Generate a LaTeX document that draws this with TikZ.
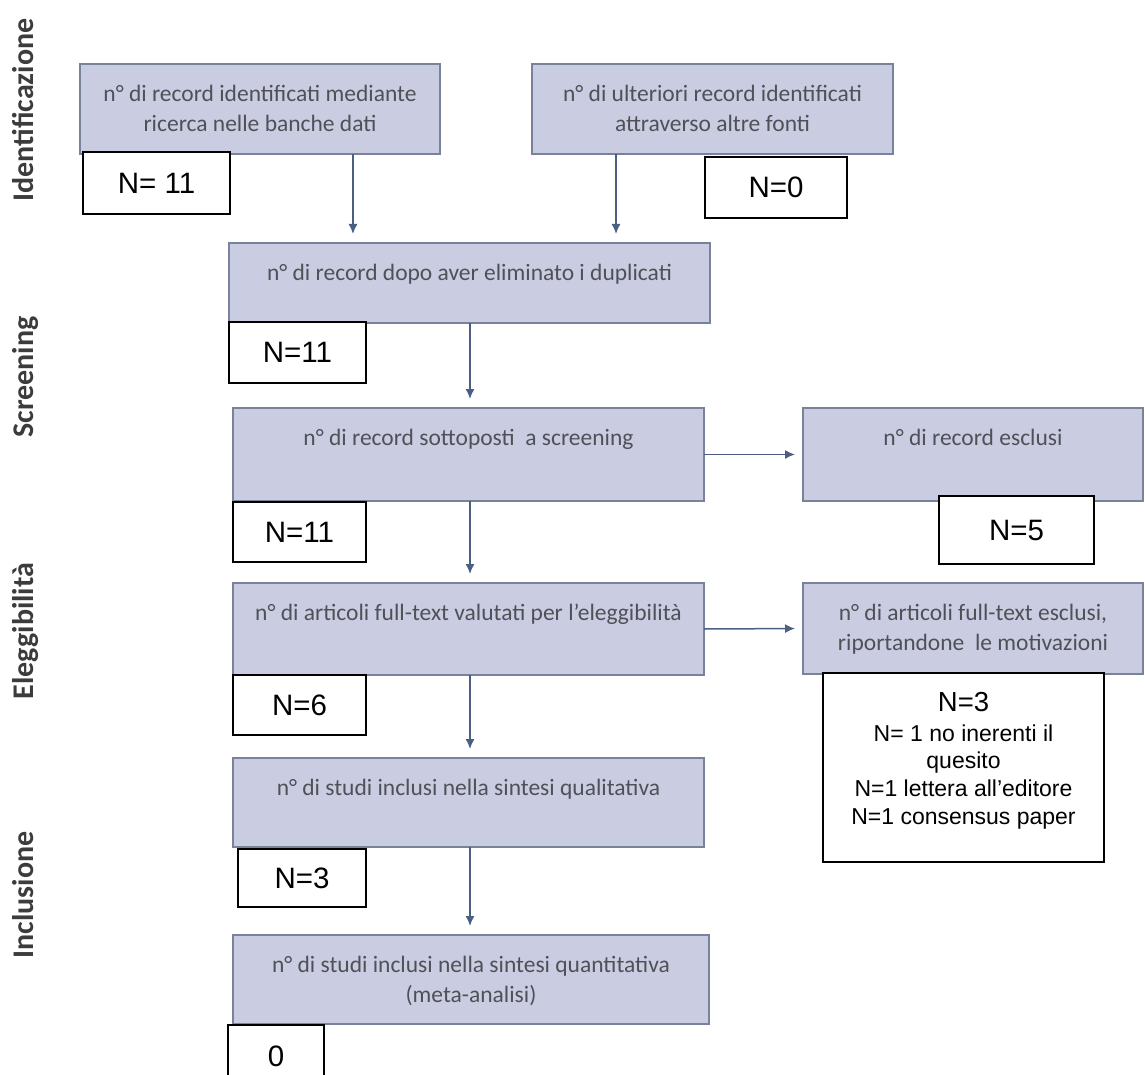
\documentclass[tikz,border=0pt]{standalone}
\usepackage{fontspec}
\setmainfont{Carlito}
\newfontfamily\arialfont{Liberation Sans}
\usetikzlibrary{arrows.meta}
\definecolor{boxfill}{RGB}{202,205,225}
\definecolor{boxline}{RGB}{120,130,155}
\definecolor{boxtext}{RGB}{80,80,88}
\definecolor{arrowcol}{RGB}{75,95,130}
\definecolor{phase}{RGB}{60,60,60}

\begin{document}
\begin{tikzpicture}[x=1pt,y=-1pt,
  graybox/.style={draw=boxline, fill=boxfill, line width=1.5pt, inner sep=0pt, outer sep=0pt},
  caption/.style={anchor=north, inner sep=0pt, align=center, text=boxtext,
    font=\fontsize{23.5}{30}\selectfont},
  countbox/.style={draw=black, fill=white, line width=1.2pt, inner sep=0pt, outer sep=0pt,
    font=\arialfont\fontsize{29.5}{32}\selectfont},
  phaselabel/.style={rotate=90, anchor=base, inner sep=0pt, text=phase,
    font=\bfseries\fontsize{30}{32}\selectfont},
  flow/.style={draw=arrowcol, line width=1.5pt, -{Latex[length=10pt,width=9pt]}, shorten >=9pt}
]
\useasboundingbox (0,0) rectangle (1145,1075);
\fill[white] (0,0) rectangle (1145,1075);

% phase labels on the left
\node[phaselabel] (ph1) at (33,110) {Identificazione};
\node[phaselabel] (ph2) at (33,377) {Screening};
\node[phaselabel] (ph3) at (33,631) {Eleggibilità};
\node[phaselabel] (ph4) at (33,895) {Inclusione};

% flow boxes
\node[graybox, minimum width=360pt, minimum height=90pt] (b1) at (260,109) {};
\node[graybox, minimum width=361pt, minimum height=90pt] (b2) at (712.5,109) {};
\node[graybox, minimum width=481pt, minimum height=80pt] (b3) at (469.5,283) {};
\node[graybox, minimum width=471pt, minimum height=93pt] (b4) at (468.5,454.5) {};
\node[graybox, minimum width=340pt, minimum height=93pt] (x1) at (973,454.5) {};
\node[graybox, minimum width=471pt, minimum height=92pt] (b5) at (468.5,629) {};
\node[graybox, minimum width=340pt, minimum height=91pt] (x2) at (973,628.5) {};
\node[graybox, minimum width=471pt, minimum height=89pt] (b6) at (468.5,802.5) {};
\node[graybox, minimum width=476pt, minimum height=89pt] (b7) at (471,979.5) {};

% box captions
\node[caption] (t1) at ([yshift=-21pt]b1.north) {n° di record identificati mediante\\ricerca nelle banche dati};
\node[caption] (t2) at ([yshift=-21pt]b2.north) {n° di ulteriori record identificati\\attraverso altre fonti};
\node[caption] (t3) at ([yshift=-21pt]b3.north) {n° di record dopo aver eliminato i duplicati};
\node[caption] (t4) at ([yshift=-21pt]b4.north) {n° di record sottoposti \ a screening};
\node[caption] (tx1) at ([yshift=-21pt]x1.north) {n° di record esclusi};
\node[caption] (t5) at ([yshift=-21pt]b5.north) {n° di articoli full-text valutati per l’eleggibilità};
\node[caption] (tx2) at ([yshift=-21pt]x2.north) {n° di articoli full-text esclusi,\\riportandone \ le motivazioni};
\node[caption] (t6) at ([yshift=-21pt]b6.north) {n° di studi inclusi nella sintesi qualitativa};
\node[caption] (t7) at ([yshift=-21pt]b7.north) {n° di studi inclusi nella sintesi quantitativa\\(meta-analisi)};

% connectors
\coordinate (ax1) at (353,0);
\coordinate (ax2) at (616,0);
\coordinate (axm) at (470,0);
\draw[flow] (b1.south -| ax1) -- (b3.north -| ax1);
\draw[flow] (b2.south -| ax2) -- (b3.north -| ax2);
\draw[flow] (b3.south -| axm) -- (b4.north -| axm);
\draw[flow] (b4.south -| axm) -- (b5.north -| axm);
\draw[flow] (b5.south -| axm) -- (b6.north -| axm);
\draw[flow] (b6.south -| axm) -- (b7.north -| axm);
\draw[flow, shorten >=8pt] (b4.east) -- (x1.west);
\draw[flow, shorten >=8pt] (b5.east) -- (x2.west);

% counts
\node[countbox, minimum width=147pt, minimum height=62pt] (n1) at (156.5,183) {N= 11};
\node[countbox, minimum width=142pt, minimum height=61pt] (n2) at (776,187.5) {N=0};
\node[countbox, minimum width=137pt, minimum height=61pt] (n3) at (297.5,352.5) {N=11};
\node[countbox, minimum width=133pt, minimum height=60pt] (n4) at (299.5,532) {N=11};
\node[countbox, minimum width=155pt, minimum height=68pt] (nx1) at (1016.5,530) {N=5};
\node[countbox, minimum width=133pt, minimum height=60pt] (n5) at (299.5,705) {N=6};
\node[countbox, minimum width=128pt, minimum height=58pt] (n6) at (302,878) {N=3};
\node[countbox, minimum width=96pt, minimum height=62pt] (n7) at (276,1056) {0};
\node[countbox, minimum width=281pt, minimum height=189pt] (nx2) at (963.5,767.5) {};
\node[anchor=north, align=center, inner sep=0pt, font=\arialfont\fontsize{23}{27.7}\selectfont]
  (nx2t) at ([yshift=-19pt]nx2.north)
  {{\fontsize{27.5}{30}\selectfont N=3}\\[2pt] N= 1 no inerenti il\\ quesito\\ N=1 lettera all’editore\\ N=1 consensus paper};
\end{tikzpicture}
\end{document}
